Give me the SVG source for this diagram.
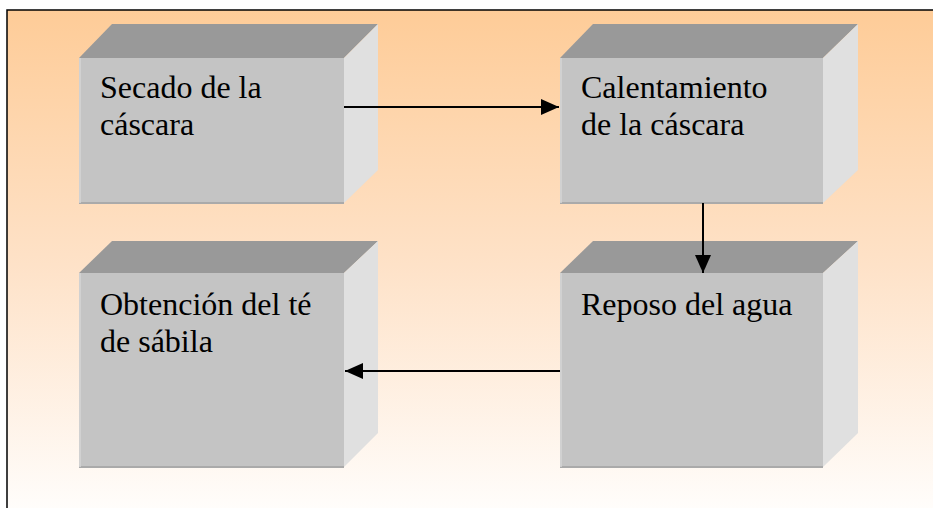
<svg xmlns="http://www.w3.org/2000/svg" width="933" height="508" viewBox="0 0 933 508">
<defs>
<linearGradient id="bg" x1="0" y1="0" x2="0" y2="1">
<stop offset="0" stop-color="#fecc98"/>
<stop offset="0.5" stop-color="#fee2c8"/>
<stop offset="1" stop-color="#fffefd"/>
</linearGradient>
<marker id="ah" markerWidth="9" markerHeight="8" refX="9" refY="4" orient="auto" markerUnits="strokeWidth">
<path d="M0,0 L9,4 L0,8 Z" fill="#000"/>
</marker>
</defs>
<style>
.front{fill:#c4c4c4;stroke:none}
.top{fill:#999999}
.side{fill:#e0e0e0}
.edge{stroke:#aaaaaa;stroke-width:2;fill:none}
.ledge{stroke:#d6d6d6;stroke-width:1.5;fill:none}
.lbl{font-family:"Liberation Serif","Times New Roman",serif;font-size:32px;fill:#000}
.conn{stroke:#000;stroke-width:2;fill:none;marker-end:url(#ah)}
</style>
<rect x="7" y="10" width="940" height="510" fill="url(#bg)" stroke="#000" stroke-width="1.5"/>
<g id="node1">
<polygon class="top" points="79,58 112,24 378,24 344,58"/>
<polygon class="side" points="344,58 378,24 378,170 344,203"/>
<rect class="front" x="79" y="58" width="265" height="145"/>
<line class="edge" x1="79" y1="203" x2="344" y2="203"/>
<line class="ledge" x1="80" y1="58" x2="80" y2="203"/>
<text class="lbl" x="100" y="98">Secado de la</text>
<text class="lbl" x="100" y="135">cáscara</text>
</g>
<g id="node2">
<polygon class="top" points="560,58 593,24 858,24 823,58"/>
<polygon class="side" points="823,58 858,24 858,170 823,203"/>
<rect class="front" x="560" y="58" width="263" height="145"/>
<line class="edge" x1="560" y1="203" x2="823" y2="203"/>
<line class="ledge" x1="561" y1="58" x2="561" y2="203"/>
<text class="lbl" x="581" y="98">Calentamiento</text>
<text class="lbl" x="581" y="135">de la cáscara</text>
</g>
<g id="node3">
<polygon class="top" points="79,273 112,241 378,241 344,273"/>
<polygon class="side" points="344,273 378,241 378,433 344,467"/>
<rect class="front" x="79" y="273" width="265" height="194"/>
<line class="edge" x1="79" y1="467" x2="344" y2="467"/>
<line class="ledge" x1="80" y1="273" x2="80" y2="467"/>
<text class="lbl" x="100" y="315">Obtención del té</text>
<text class="lbl" x="100" y="352">de sábila</text>
</g>
<g id="node4">
<polygon class="top" points="560,273 593,241 858,241 823,273"/>
<polygon class="side" points="823,273 858,241 858,433 823,467"/>
<rect class="front" x="560" y="273" width="263" height="194"/>
<line class="edge" x1="560" y1="467" x2="823" y2="467"/>
<line class="ledge" x1="561" y1="273" x2="561" y2="467"/>
<text class="lbl" x="581" y="315">Reposo del agua</text>
</g>
<g id="connectors">
<line class="conn" x1="344" y1="107" x2="559" y2="107"/>
<line class="conn" x1="703" y1="203" x2="703" y2="273"/>
<line class="conn" x1="560" y1="371" x2="345" y2="371"/>
</g>
</svg>
